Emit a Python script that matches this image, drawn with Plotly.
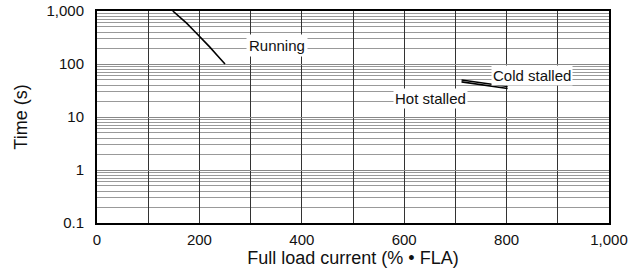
import plotly.graph_objects as go

running_x = [148, 160, 175, 190, 205, 220, 235, 250]
running_y = [1000, 800, 590, 420, 300, 210, 145, 100]
cold_x = [712, 802]
cold_y = [50, 37.5]
hot_x = [712, 802]
hot_y = [46, 34.5]

x_ticks = [0, 100, 200, 300, 400, 500, 600, 700, 800, 900, 1000]
x_labels = ["0", "", "200", "", "400", "", "600", "", "800", "", "1,000"]
y_ticks = [0.1, 1, 10, 100, 1000]
y_labels = ["0.1", "1", "10", "100", "1,000"]
y_minor = [m * 10 ** e for e in range(-1, 3) for m in range(2, 10)]

font = "Liberation Sans, Arial, sans-serif"
fig = go.Figure()
for xs, ys in [(running_x, running_y), (cold_x, cold_y), (hot_x, hot_y)]:
    fig.add_trace(go.Scatter(x=xs, y=ys, mode="lines",
                             line=dict(color="black", width=1.6),
                             showlegend=False, hoverinfo="skip"))

fig.add_annotation(x=352, y=2.34, text="Running", showarrow=False,
                   bgcolor="white", font=dict(size=15, color="#111"), borderpad=2)
fig.add_annotation(x=850, y=1.775, text="Cold stalled", showarrow=False,
                   bgcolor="white", font=dict(size=15, color="#111"), borderpad=1)
fig.add_annotation(x=652, y=1.353, text="Hot stalled", showarrow=False,
                   bgcolor="white", font=dict(size=15, color="#111"), borderpad=1)

fig.update_layout(
    width=640, height=275,
    margin=dict(l=97, r=31, t=11, b=52),
    plot_bgcolor="white", paper_bgcolor="white",
    font=dict(family=font, size=15, color="#111"),
    xaxis=dict(range=[0, 1000], tickvals=x_ticks, ticktext=x_labels,
               showgrid=True, gridcolor="#333", gridwidth=1,
               showline=True, linecolor="black", linewidth=2, mirror=True,
               ticks="", zeroline=False, automargin=False,
               ticklabelstandoff=2, ticklabeloverflow="allow",
               title=dict(text="Full load current (% • FLA)", standoff=4)),
    yaxis=dict(type="log", range=[-1, 3], tickvals=y_ticks, ticktext=y_labels,
               showgrid=True, gridcolor="#888", gridwidth=1,
               minor=dict(tickvals=y_minor, showgrid=True, gridcolor="#999", gridwidth=1, ticks=""),
               showline=True, linecolor="black", linewidth=2, mirror=True,
               ticks="", zeroline=False, automargin=False,
               ticklabelstandoff=8, ticklabeloverflow="allow",
               title=dict(text="Time (s)", standoff=14)),
)
fig.write_html("out.html", config={"displayModeBar": False},
               post_script="document.body.style.margin='0';")
